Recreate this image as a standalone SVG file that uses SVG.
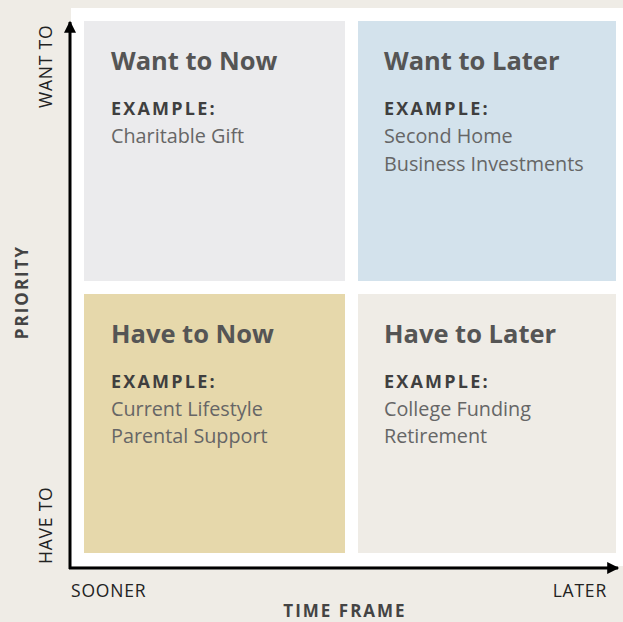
<svg xmlns="http://www.w3.org/2000/svg" width="623" height="622" viewBox="0 0 623 622">
<style>
.t{font-family:"Open Sans","Noto Sans",sans-serif;font-weight:700;font-size:25.5px;fill:#555555}
.ex{font-family:"Open Sans","Noto Sans",sans-serif;font-weight:700;font-size:18px;fill:#3f3f3f;letter-spacing:2.2px}
.b{font-family:"Open Sans","Noto Sans",sans-serif;font-size:19.8px;fill:#666666}
.ax{font-family:"Open Sans","Noto Sans",sans-serif;font-size:17.5px;fill:#222222;letter-spacing:0.8px}
.axb{font-family:"Open Sans","Noto Sans",sans-serif;font-weight:700;font-size:17px;fill:#444444;letter-spacing:2px}
</style>
<defs>
<marker id="ah" viewBox="0 0 10 10" refX="9" refY="5" markerWidth="5" markerHeight="4" markerUnits="strokeWidth" orient="auto"><path d="M0,0 L10,5 L0,10 Z" fill="#000"/></marker>
</defs>
<rect x="0" y="0" width="623" height="622" fill="#efece6"/>
<rect x="71" y="8" width="552" height="558" fill="#ffffff"/>
<g id="want-now">
<rect x="84" y="21" width="261" height="260" fill="#ebebed"/>
<text class="t" x="111" y="70">Want to Now</text>
<text class="ex" x="111" y="115">EXAMPLE:</text>
<text class="b" x="111" y="143">Charitable Gift</text>
</g>
<g id="want-later">
<rect x="358" y="21" width="258" height="260" fill="#d3e2ec"/>
<text class="t" x="384" y="70">Want to Later</text>
<text class="ex" x="384" y="115">EXAMPLE:</text>
<text class="b" x="384" y="143">Second Home</text>
<text class="b" x="384" y="171">Business Investments</text>
</g>
<g id="have-now">
<rect x="84" y="294" width="261" height="259" fill="#e6d8ab"/>
<text class="t" x="111" y="343">Have to Now</text>
<text class="ex" x="111" y="388">EXAMPLE:</text>
<text class="b" x="111" y="416">Current Lifestyle</text>
<text class="b" x="111" y="443">Parental Support</text>
</g>
<g id="have-later">
<rect x="358" y="294" width="258" height="259" fill="#efece6"/>
<text class="t" x="384" y="343">Have to Later</text>
<text class="ex" x="384" y="388">EXAMPLE:</text>
<text class="b" x="384" y="416">College Funding</text>
<text class="b" x="384" y="443">Retirement</text>
</g>
<g id="connectors">
<line x1="70" y1="569" x2="70" y2="22" stroke="#000" stroke-width="3" marker-end="url(#ah)"/>
<line x1="69" y1="568" x2="618" y2="568" stroke="#000" stroke-width="3" marker-end="url(#ah)"/>
</g>
<g id="axis-labels">
<text class="ax" transform="translate(52,108) rotate(-90)">WANT TO</text>
<text class="ax" transform="translate(52,564) rotate(-90)">HAVE TO</text>
<text class="axb" text-anchor="middle" transform="translate(28,292) rotate(-90)">PRIORITY</text>
<text class="ax" x="71" y="597">SOONER</text>
<text class="ax" x="607" y="597" text-anchor="end">LATER</text>
<text class="axb" x="345" y="617" text-anchor="middle">TIME FRAME</text>
</g>
</svg>
